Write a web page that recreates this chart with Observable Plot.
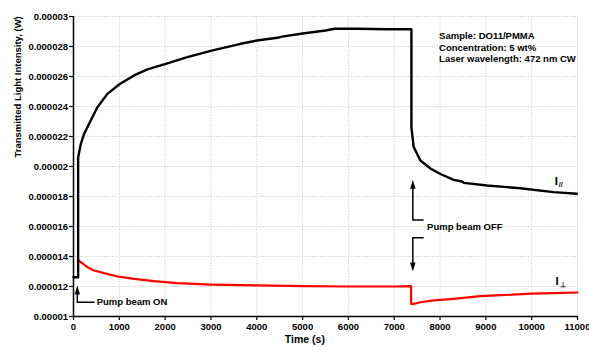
<!DOCTYPE html>
<html>
<head>
<meta charset="utf-8">
<script src="https://cdn.jsdelivr.net/npm/d3@7"></script>
<script src="https://cdn.jsdelivr.net/npm/@observablehq/plot@0.6"></script>
<style>
  html, body { margin: 0; padding: 0; background: #fff; }
  #chart svg { display: block; }
</style>
</head>
<body>
<div id="chart"></div>
<script>
// ---- Data (time in s, intensity in W) ----
const parallelTime = [0, 101, 101, 159, 232, 377, 522, 740, 1010, 1322, 1613, 2012, 2485, 3015, 3647, 4000, 4450, 4550, 5000, 5500, 5700, 6200, 6800, 7375, 7375, 7425, 7571, 7790, 8008, 8298, 8480, 8520, 9025, 9751, 10478, 10987];
const parallelValue = [12.62e-6, 12.62e-6, 20.6e-6, 21.5e-6, 22.18e-6, 23.07e-6, 23.95e-6, 24.84e-6, 25.5e-6, 26.07e-6, 26.47e-6, 26.84e-6, 27.29e-6, 27.73e-6, 28.18e-6, 28.4e-6, 28.58e-6, 28.66e-6, 28.87e-6, 29.07e-6, 29.18e-6, 29.18e-6, 29.15e-6, 29.15e-6, 22.6e-6, 21.3e-6, 20.4e-6, 19.87e-6, 19.5e-6, 19.11e-6, 19.0e-6, 18.91e-6, 18.73e-6, 18.55e-6, 18.29e-6, 18.18e-6];

const perpTime = [122, 159, 305, 449, 667, 959, 1322, 1757, 2267, 3000, 4000, 5000, 6000, 7000, 7369, 7369, 7425, 7571, 7862, 8298, 8879, 9317, 10000, 10500, 11000];
const perpValue = [13.73e-6, 13.62e-6, 13.29e-6, 13.07e-6, 12.89e-6, 12.67e-6, 12.51e-6, 12.36e-6, 12.22e-6, 12.13e-6, 12.07e-6, 12.02e-6, 12.0e-6, 12.0e-6, 12.02e-6, 10.84e-6, 10.84e-6, 10.95e-6, 11.07e-6, 11.18e-6, 11.36e-6, 11.42e-6, 11.52e-6, 11.56e-6, 11.6e-6];

const xTicks = [0, 1000, 2000, 3000, 4000, 5000, 6000, 7000, 8000, 9000, 10000, 11000];
const yTicks = [0.00001, 0.000012, 0.000014, 0.000016, 0.000018, 0.00002, 0.000022, 0.000024, 0.000026, 0.000028, 0.00003];
const yTickLabels = ["0.00001", "0.000012", "0.000014", "0.000016", "0.000018", "0.00002", "0.000022", "0.000024", "0.000026", "0.000028", "0.00003"];

const xTitle = "Time (s)";
const yTitle = "Transmitted Light Intensity, (W)";

const infoLines = ["Sample: DO11/PMMA", "Concentration: 5 wt%", "Laser wavelength: 472 nm CW"];
const infoTime = [7979, 7979, 7979];
const infoValue = [28.67e-6, 27.93e-6, 27.17e-6];

// annotation arrows (shaft polylines and heads), in data units
const onShaftTime = [83, 83, 450];
const onShaftValue = [11.7e-6, 10.95e-6, 10.95e-6];
const onText = "Pump beam ON";
const onTextTime = 505;
const onTextValue = 10.95e-6;

const offUpShaftTime = [7406, 7406, 7630];
const offUpShaftValue = [18.6e-6, 16.44e-6, 16.44e-6];
const offDownShaftTime = [7630, 7406, 7406];
const offDownShaftValue = [15.25e-6, 15.25e-6, 13.5e-6];
const offText = "Pump beam OFF";
const offTextTime = 7717;
const offTextValue = 15.95e-6;

const headTime = [83, 7406, 7406];
const headValue = [12.07e-6, 19.11e-6, 13.0e-6];
const headDir = ["up", "up", "down"];

const seriesLabel = ["I", "I"];
const seriesSub = ["//", "\u22A5"];
const labelTime = [10503, 10520];
const labelValue = [19.0e-6, 12.33e-6];

// ---- build tables ----
const parallel = parallelTime.map((t, i) => ({t, v: parallelValue[i]}));
const perp = perpTime.map((t, i) => ({t, v: perpValue[i]}));
const info = infoLines.map((s, i) => ({s, t: infoTime[i], v: infoValue[i]}));
const shafts = [
  ...onShaftTime.map((t, i) => ({g: "on", t, v: onShaftValue[i]})),
  ...offUpShaftTime.map((t, i) => ({g: "offUp", t, v: offUpShaftValue[i]})),
  ...offDownShaftTime.map((t, i) => ({g: "offDown", t, v: offDownShaftValue[i]}))
];
const heads = headTime.map((t, i) => ({t, v: headValue[i], rot: headDir[i] === "up" ? 0 : 180}));
const labels = seriesLabel.map((s, i) => ({s, sub: seriesSub[i], t: labelTime[i], v: labelValue[i]}));

const arrowHead = {
  draw(ctx) {
    ctx.moveTo(0, 0);
    ctx.lineTo(-2.7, 9);
    ctx.lineTo(2.7, 9);
    ctx.closePath();
  }
};

const gridStyle = {stroke: "#b8b8b8", strokeOpacity: 1, strokeWidth: 0.8, strokeDasharray: "1,1.6"};
const ink = "#000";

const chart = Plot.plot({
  width: 589,
  height: 347,
  marginLeft: 73,
  marginRight: 12,
  marginTop: 16,
  marginBottom: 31,
  x: {domain: [0, 11000]},
  y: {domain: [0.00001, 0.00003]},
  style: {
    fontFamily: "'Liberation Sans', Arial, sans-serif",
    fontSize: "9.5px",
    fontWeight: "bold",
    background: "#fff",
    color: "#000",
    overflow: "hidden"
  },
  marks: [
    Plot.gridX(xTicks, gridStyle),
    Plot.gridY(yTicks, gridStyle),
    Plot.line(perp, {x: "t", y: "v", stroke: "#ff0000", strokeWidth: 2.2}),
    Plot.line(parallel, {x: "t", y: "v", stroke: ink, strokeWidth: 2.4}),
    Plot.line(shafts, {x: "t", y: "v", z: "g", stroke: ink, strokeWidth: 1.5}),
    Plot.dot(heads, {x: "t", y: "v", symbol: arrowHead, rotate: "rot", fill: ink, stroke: null}),
    Plot.text([onText], {x: [onTextTime], y: [onTextValue], text: d => d, textAnchor: "start", fontSize: 9.5, fill: ink}),
    Plot.text([offText], {x: [offTextTime], y: [offTextValue], text: d => d, textAnchor: "start", fontSize: 9.5, fill: ink}),
    Plot.text(info, {x: "t", y: "v", text: "s", textAnchor: "start", fontSize: 9.5, fill: ink}),
    Plot.text(labels, {x: "t", y: "v", text: "s", textAnchor: "start", fontSize: 11.5, fill: ink}),
    Plot.text(labels, {x: "t", y: "v", text: "sub", textAnchor: "start", fontSize: 7, dx: 4, dy: 3, fill: ink}),
    Plot.ruleX([0], {stroke: ink, strokeWidth: 1.5}),
    Plot.ruleY([0.00001], {stroke: ink, strokeWidth: 1.5}),
    Plot.axisX(xTicks, {tickSize: 4, tickPadding: 3, label: null, tickFormat: d => String(d), strokeWidth: 1.2, fill: ink}),
    Plot.axisY(yTicks, {tickSize: 4, tickPadding: 1.5, label: null, tickFormat: (d, i) => yTickLabels[i], strokeWidth: 1.2, fill: ink}),
    Plot.text([xTitle], {frameAnchor: "bottom", x: [5050], text: d => d, dy: 26, fontSize: 10.5, fill: ink}),
    Plot.text([yTitle], {frameAnchor: "left", y: [20.6e-6], text: d => d, rotate: -90, dx: -56, fontSize: 9.5, fill: ink})
  ]
});

document.getElementById("chart").appendChild(chart);
</script>
</body>
</html>
